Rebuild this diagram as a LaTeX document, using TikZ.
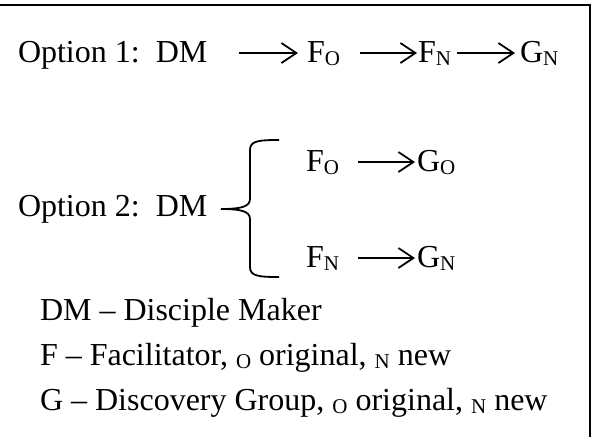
\documentclass[tikz,border=0pt]{standalone}
\usepackage{fontspec}
\setmainfont{Liberation Serif}
\usetikzlibrary{arrows.meta}
\newcommand\lowsub[1]{\raisebox{-0.12em}{\fontsize{21}{21}\selectfont #1}}
\begin{document}
\begin{tikzpicture}[x=1pt,y=-1pt,
  txt/.style={anchor=base west,inner sep=0pt,outer sep=0pt,font=\fontsize{32}{38}\selectfont},
  arr/.style={line width=1.8pt,-{Straight Barb[length=15pt,width=20pt,line width=1.8pt]}},
  frame/.style={line width=2pt},
  bracestyle/.style={line width=1.8pt}]
\useasboundingbox (0,0) rectangle (592,437);
\draw[frame] (0,5) -- (590,5) -- (590,437);
% Option 1
\node[txt] (o1) at (18,62) {Option 1:\ \ DM};
\node[txt] (fo1) at (307,62) {F\lowsub{O}};
\node[txt] (fn1) at (418,62) {F\lowsub{N}};
\node[txt] (gn1) at (520,62) {G\lowsub{N}};
\draw[arr] ([xshift=32pt,yshift=9pt]o1.base east) -- ([xshift=-9pt,yshift=9pt]fo1.base west);
\draw[arr] ([xshift=20pt,yshift=9pt]fo1.base east) -- ([xshift=-1pt,yshift=9pt]fn1.base west);
\draw[arr] ([xshift=6pt,yshift=9pt]fn1.base east) -- ([xshift=-5pt,yshift=9pt]gn1.base west);
% Option 2
\node[txt] (o2) at (18,216) {Option 2:\ \ DM};
\node[txt] (fo2) at (306,171) {F\lowsub{O}};
\node[txt] (go2) at (417,171) {G\lowsub{O}};
\node[txt] (fn2) at (306,267) {F\lowsub{N}};
\node[txt] (gn2) at (417,267) {G\lowsub{N}};
\draw[bracestyle] (279,140) .. controls (258,140) and (250,141) .. (250,150) -- (250,199)
  .. controls (250,207) and (240,209) .. (221,209)
  .. controls (240,209) and (250,211) .. (250,219) -- (250,267)
  .. controls (250,276) and (258,277) .. (279,277);
\draw[arr] ([xshift=19pt,yshift=9pt]fo2.base east) -- ([xshift=-2pt,yshift=9pt]go2.base west);
\draw[arr] ([xshift=19pt,yshift=9pt]fn2.base east) -- ([xshift=-2pt,yshift=9pt]gn2.base west);
% Legend
\node[txt] (l1) at (40,320) {DM -- Disciple Maker};
\node[txt] (l2) at (40,365) {F -- Facilitator, \lowsub{O} original, \lowsub{N} new};
\node[txt] (l3) at (40,410) {G -- Discovery Group, \lowsub{O} original, \lowsub{N} new};
\end{tikzpicture}
\end{document}
